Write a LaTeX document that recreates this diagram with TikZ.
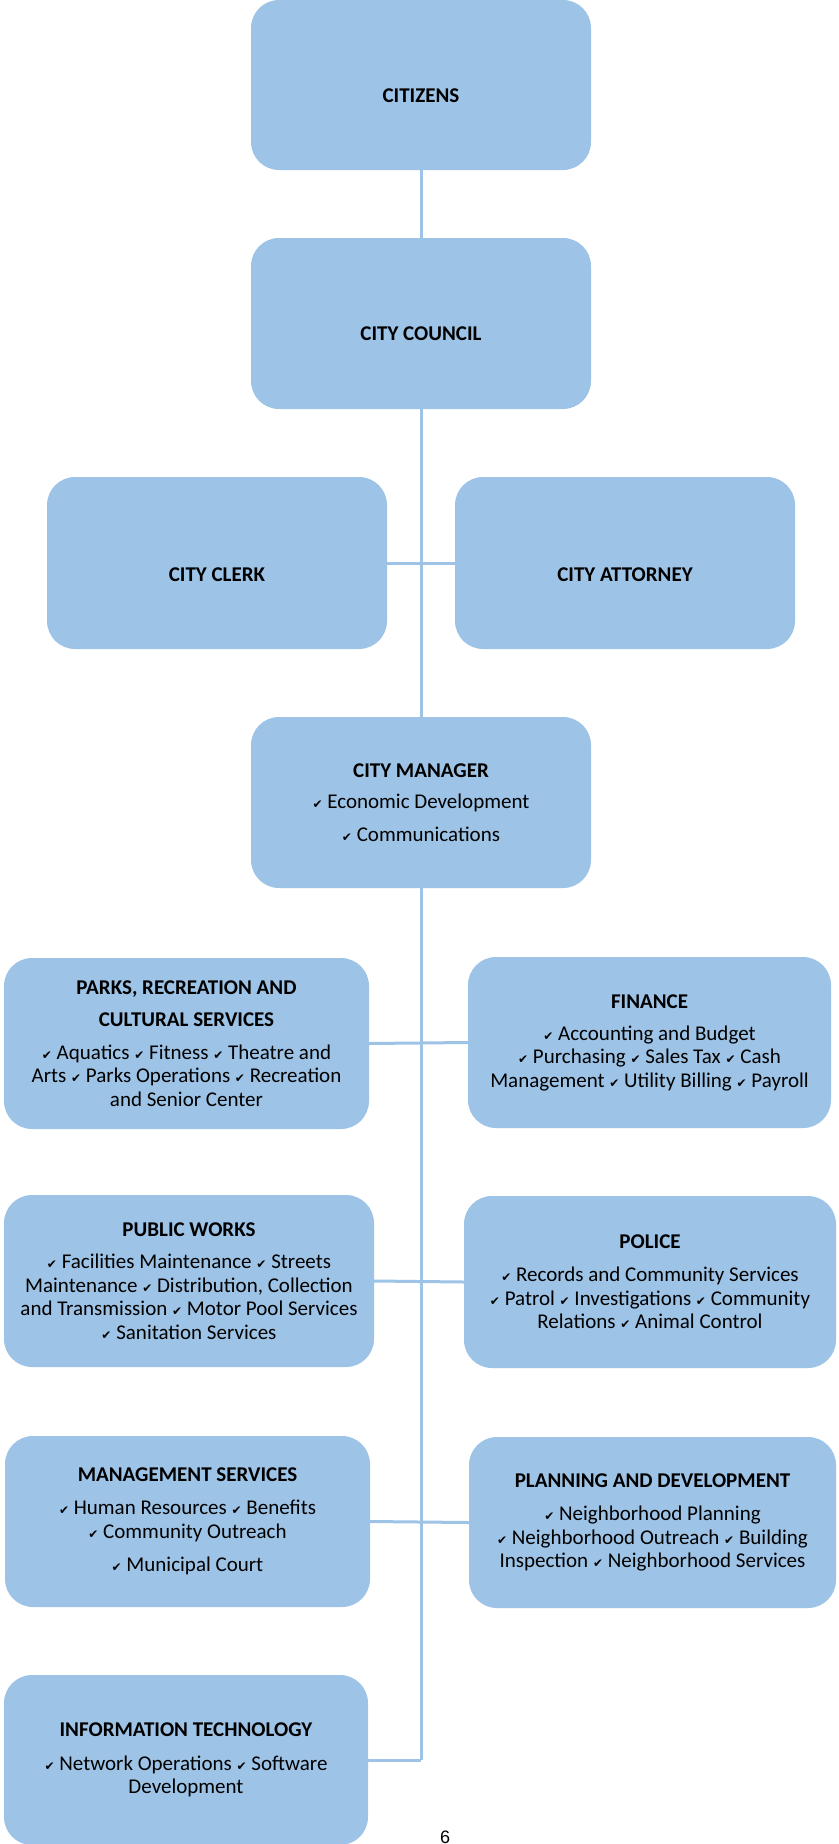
\documentclass[tikz,border=0pt]{standalone}
\usepackage{fontspec}
\setmainfont{Carlito}
\newfontfamily\symf{DejaVu Sans}
\newfontfamily\pagef{Liberation Sans}
\newcommand\ck{{\symf\fontsize{12}{12}\selectfont ✔}}
\definecolor{boxblue}{RGB}{157,195,230}
\definecolor{lineblue}{RGB}{157,195,230}
\tikzset{
  box/.style={fill=boxblue, rounded corners=28pt, inner sep=0pt, align=center,
    font=\fontsize{21}{23.5}\selectfont},
  ttl/.style={inner sep=0pt, font=\fontsize{21}{23.5}\selectfont\bfseries},
  conn/.style={draw=lineblue, line width=3pt}
}
\begin{document}
\begin{tikzpicture}[x=1pt,y=-1pt]
\useasboundingbox (0,0) rectangle (838,1844);
\node[box, minimum width=340pt, minimum height=170pt] (cit) at (421,85) {};
\node[ttl] (cit-t) at (421,96) {CITIZENS};
\node[box, minimum width=340pt, minimum height=171pt] (cou) at (421,323.5) {};
\node[ttl] (cou-t) at (421,334) {CITY COUNCIL};
\node[box, minimum width=340pt, minimum height=172pt] (clk) at (217,563) {};
\node[ttl] (clk-t) at (217,575) {CITY CLERK};
\node[box, minimum width=340pt, minimum height=172pt] (att) at (625,563) {};
\node[ttl] (att-t) at (625,575) {CITY ATTORNEY};
\node[box, minimum width=340pt, minimum height=171pt] (man) at (421,802.5) {\textbf{CITY MANAGER}\\[8pt]\ck\ Economic Development\\[9.5pt]\ck\ Communications};
\node[box, minimum width=365pt, minimum height=171pt] (prk) at (186.5,1043.5) {\textbf{PARKS, RECREATION AND}\\[8.5pt]\textbf{CULTURAL SERVICES}\\[9.5pt]\ck\ Aquatics \ck\ Fitness \ck\ Theatre and\\Arts \ck\ Parks Operations \ck\ Recreation\\and Senior Center};
\node[box, minimum width=363pt, minimum height=171pt] (fin) at (649.5,1042.5) {\textbf{FINANCE}\\[8.5pt]\ck\ Accounting and Budget\\\ck\ Purchasing \ck\ Sales Tax \ck\ Cash\\Management \ck\ Utility Billing \ck\ Payroll};
\node[box, minimum width=370pt, minimum height=172pt] (pw) at (189,1281) {\textbf{PUBLIC WORKS}\\[8.5pt]\ck\ Facilities Maintenance \ck\ Streets\\Maintenance \ck\ Distribution, Collection\\and Transmission \ck\ Motor Pool Services\\\ck\ Sanitation Services};
\node[box, minimum width=372pt, minimum height=172pt] (pol) at (650,1282) {\textbf{POLICE}\\[9.5pt]\ck\ Records and Community Services\\\ck\ Patrol \ck\ Investigations \ck\ Community\\Relations \ck\ Animal Control};
\node[box, minimum width=365pt, minimum height=171pt] (mgt) at (187.5,1521.5) {\textbf{MANAGEMENT SERVICES}\\[9.5pt]\ck\ Human Resources \ck\ Benefits\\\ck\ Community Outreach\\[9.5pt]\ck\ Municipal Court};
\node[box, minimum width=367pt, minimum height=171pt] (pln) at (652.5,1522.5) {\textbf{PLANNING AND DEVELOPMENT}\\[9.5pt]\ck\ Neighborhood Planning\\\ck\ Neighborhood Outreach \ck\ Building\\Inspection \ck\ Neighborhood Services};
\node[box, minimum width=364pt, minimum height=170pt] (it) at (186,1760) {\textbf{INFORMATION TECHNOLOGY}\\[10.5pt]\ck\ Network Operations \ck\ Software\\Development};
\coordinate (itend) at (421,1760);
\node[font=\pagef\fontsize{18}{18}\selectfont, anchor=base, inner sep=0pt] (pg) at (445,1843) {6};
\draw[conn] (cit.south) -- (cou.north);
\draw[conn] (cou.south) -- (man.north);
\draw[conn] (man.south) -- (itend);
\draw[conn] (clk.east) -- (att.west);
\draw[conn] (prk.east) -- (fin.west);
\draw[conn] (pw.east) -- (pol.west);
\draw[conn] (mgt.east) -- (pln.west);
\draw[conn] (it.east) -- (itend);
\end{tikzpicture}
\end{document}
